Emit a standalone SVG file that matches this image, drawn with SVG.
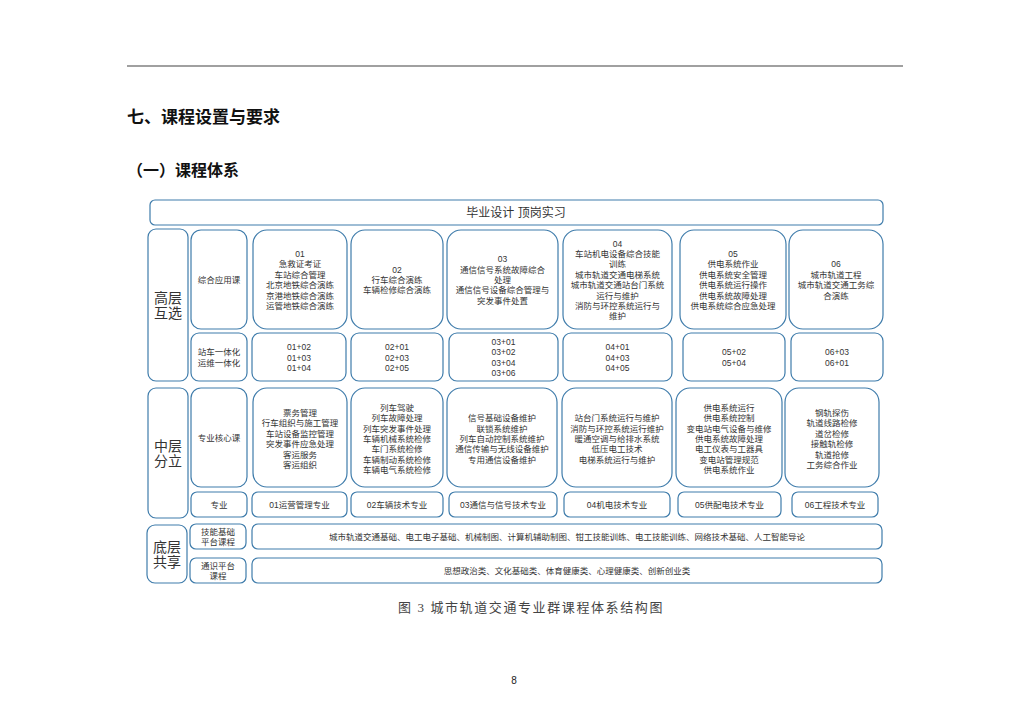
<svg xmlns="http://www.w3.org/2000/svg" width="1024" height="723" viewBox="0 0 1024 723">
<style>
.b{fill:#fff;stroke:#3f7cab;stroke-width:1.2}
.t{font-family:"Liberation Sans","Noto Sans CJK SC",sans-serif;font-size:8.5px;fill:#333;text-anchor:middle}
.L{font-size:14px}
.h{font-family:"Noto Sans CJK SC",sans-serif;font-weight:bold;fill:#111}
</style>
<rect width="1024" height="723" fill="#fff"/>
<line x1="127" y1="66" x2="903" y2="66" stroke="#808080" stroke-width="1.5"/>
<text class="h" x="127" y="123" font-size="17">七、课程设置与要求</text>
<text class="h" x="127" y="176" font-size="16">（一）课程体系</text>

<g id="top">
<rect class="b" x="150" y="200" width="733" height="25" rx="5"/>
<text class="t" x="516" y="216.8" style="font-size:12px">毕业设计 顶岗实习</text>
</g>

<g id="high">
<rect class="b" x="148" y="229" width="40" height="152" rx="8"/>
<text class="t L" x="168" y="302.5">高层<tspan x="168" dy="15">互选</tspan></text>
</g>
<g id="high-label1">
<rect class="b" x="191" y="230" width="56" height="99" rx="10"/>
<text class="t" x="219" y="282.5">综合应用课</text>
</g>
<g id="high-label2">
<rect class="b" x="191" y="333" width="56" height="48" rx="8"/>
<text class="t" x="219" y="355.3">站车一体化<tspan x="219" dy="10.4">运维一体化</tspan></text>
</g>

<g id="c01">
<rect class="b" x="253" y="230" width="94" height="99" rx="14"/>
<text class="t" x="300" y="257">01<tspan x="300" dy="10.4">急救证考证</tspan><tspan x="300" dy="10.4">车站综合管理</tspan><tspan x="300" dy="10.4">北京地铁综合演练</tspan><tspan x="300" dy="10.4">京港地铁综合演练</tspan><tspan x="300" dy="10.4">运管地铁综合演练</tspan></text>
</g>
<g id="c02">
<rect class="b" x="351" y="230" width="92" height="99" rx="14"/>
<text class="t" x="397" y="272.6">02<tspan x="397" dy="10.4">行车综合演练</tspan><tspan x="397" dy="10.4">车辆检修综合演练</tspan></text>
</g>
<g id="c03">
<rect class="b" x="447" y="230" width="111" height="99" rx="14"/>
<text class="t" x="502.5" y="262.2">03<tspan x="502.5" dy="10.4">通信信号系统故障综合</tspan><tspan x="502.5" dy="10.4">处理</tspan><tspan x="502.5" dy="10.4">通信信号设备综合管理与</tspan><tspan x="502.5" dy="10.4">突发事件处置</tspan></text>
</g>
<g id="c04">
<rect class="b" x="563" y="230" width="109" height="99" rx="14"/>
<text class="t" x="617.5" y="246.6">04<tspan x="617.5" dy="10.4">车站机电设备综合技能</tspan><tspan x="617.5" dy="10.4">训练</tspan><tspan x="617.5" dy="10.4">城市轨道交通电梯系统</tspan><tspan x="617.5" dy="10.4">城市轨道交通站台门系统</tspan><tspan x="617.5" dy="10.4">运行与维护</tspan><tspan x="617.5" dy="10.4">消防与环控系统运行与</tspan><tspan x="617.5" dy="10.4">维护</tspan></text>
</g>
<g id="c05">
<rect class="b" x="680" y="230" width="106" height="99" rx="14"/>
<text class="t" x="733" y="257">05<tspan x="733" dy="10.4">供电系统作业</tspan><tspan x="733" dy="10.4">供电系统安全管理</tspan><tspan x="733" dy="10.4">供电系统运行操作</tspan><tspan x="733" dy="10.4">供电系统故障处理</tspan><tspan x="733" dy="10.4">供电系统综合应急处理</tspan></text>
</g>
<g id="c06">
<rect class="b" x="789" y="230" width="94" height="99" rx="14"/>
<text class="t" x="836" y="267.4">06<tspan x="836" dy="10.4">城市轨道工程</tspan><tspan x="836" dy="10.4">城市轨道交通工务综</tspan><tspan x="836" dy="10.4">合演练</tspan></text>
</g>

<g id="m01">
<rect class="b" x="252" y="333" width="94" height="48" rx="8"/>
<text class="t" x="299" y="350.1">01+02<tspan x="299" dy="10.4">01+03</tspan><tspan x="299" dy="10.4">01+04</tspan></text>
</g>
<g id="m02">
<rect class="b" x="351" y="333" width="92" height="48" rx="8"/>
<text class="t" x="397" y="350.1">02+01<tspan x="397" dy="10.4">02+03</tspan><tspan x="397" dy="10.4">02+05</tspan></text>
</g>
<g id="m03">
<rect class="b" x="449" y="333" width="109" height="48" rx="8"/>
<text class="t" x="503.5" y="344.9">03+01<tspan x="503.5" dy="10.4">03+02</tspan><tspan x="503.5" dy="10.4">03+04</tspan><tspan x="503.5" dy="10.4">03+06</tspan></text>
</g>
<g id="m04">
<rect class="b" x="563" y="333" width="109" height="48" rx="8"/>
<text class="t" x="617.5" y="350.1">04+01<tspan x="617.5" dy="10.4">04+03</tspan><tspan x="617.5" dy="10.4">04+05</tspan></text>
</g>
<g id="m05">
<rect class="b" x="683" y="333" width="102" height="48" rx="8"/>
<text class="t" x="734" y="355.3">05+02<tspan x="734" dy="10.4">05+04</tspan></text>
</g>
<g id="m06">
<rect class="b" x="791" y="333" width="92" height="48" rx="8"/>
<text class="t" x="837" y="355.3">06+03<tspan x="837" dy="10.4">06+01</tspan></text>
</g>

<g id="mid">
<rect class="b" x="148" y="388" width="40" height="130" rx="8"/>
<text class="t L" x="168" y="450.5">中层<tspan x="168" dy="15">分立</tspan></text>
</g>
<g id="mid-label1">
<rect class="b" x="191" y="388" width="56" height="99" rx="10"/>
<text class="t" x="219" y="440.5">专业核心课</text>
</g>
<g id="mid-label2">
<rect class="b" x="191" y="492" width="56" height="25" rx="6"/>
<text class="t" x="219" y="507.5">专业</text>
</g>

<g id="k01">
<rect class="b" x="253" y="388" width="94" height="99" rx="14"/>
<text class="t" x="300" y="416">票务管理<tspan x="300" dy="10.4">行车组织与施工管理</tspan><tspan x="300" dy="10.4">车站设备监控管理</tspan><tspan x="300" dy="10.4">突发事件应急处理</tspan><tspan x="300" dy="10.4">客运服务</tspan><tspan x="300" dy="10.4">客运组织</tspan></text>
</g>
<g id="k02">
<rect class="b" x="351" y="388" width="92" height="99" rx="14"/>
<text class="t" x="397" y="410.8">列车驾驶<tspan x="397" dy="10.4">列车故障处理</tspan><tspan x="397" dy="10.4">列车突发事件处理</tspan><tspan x="397" dy="10.4">车辆机械系统检修</tspan><tspan x="397" dy="10.4">车门系统检修</tspan><tspan x="397" dy="10.4">车辆制动系统检修</tspan><tspan x="397" dy="10.4">车辆电气系统检修</tspan></text>
</g>
<g id="k03">
<rect class="b" x="447" y="388" width="110" height="99" rx="14"/>
<text class="t" x="502" y="421.2">信号基础设备维护<tspan x="502" dy="10.4">联锁系统维护</tspan><tspan x="502" dy="10.4">列车自动控制系统维护</tspan><tspan x="502" dy="10.4">通信传输与无线设备维护</tspan><tspan x="502" dy="10.4">专用通信设备维护</tspan></text>
</g>
<g id="k04">
<rect class="b" x="562" y="388" width="110" height="99" rx="14"/>
<text class="t" x="617" y="421.2">站台门系统运行与维护<tspan x="617" dy="10.4">消防与环控系统运行维护</tspan><tspan x="617" dy="10.4">暖通空调与给排水系统</tspan><tspan x="617" dy="10.4">低压电工技术</tspan><tspan x="617" dy="10.4">电梯系统运行与维护</tspan></text>
</g>
<g id="k05">
<rect class="b" x="676" y="388" width="106" height="99" rx="14"/>
<text class="t" x="729" y="410.8">供电系统运行<tspan x="729" dy="10.4">供电系统控制</tspan><tspan x="729" dy="10.4">变电站电气设备与维修</tspan><tspan x="729" dy="10.4">供电系统故障处理</tspan><tspan x="729" dy="10.4">电工仪表与工器具</tspan><tspan x="729" dy="10.4">变电站管理规范</tspan><tspan x="729" dy="10.4">供电系统作业</tspan></text>
</g>
<g id="k06">
<rect class="b" x="785" y="388" width="94" height="99" rx="14"/>
<text class="t" x="832" y="416">钢轨探伤<tspan x="832" dy="10.4">轨道线路检修</tspan><tspan x="832" dy="10.4">道岔检修</tspan><tspan x="832" dy="10.4">接触轨检修</tspan><tspan x="832" dy="10.4">轨道抢修</tspan><tspan x="832" dy="10.4">工务综合作业</tspan></text>
</g>

<g id="s01">
<rect class="b" x="252" y="492" width="95" height="25" rx="6"/>
<text class="t" x="299.5" y="507.5">01运营管理专业</text>
</g>
<g id="s02">
<rect class="b" x="351" y="492" width="92" height="25" rx="6"/>
<text class="t" x="397" y="507.5">02车辆技术专业</text>
</g>
<g id="s03">
<rect class="b" x="449" y="492" width="108" height="25" rx="6"/>
<text class="t" x="503" y="507.5">03通信与信号技术专业</text>
</g>
<g id="s04">
<rect class="b" x="564" y="492" width="106" height="25" rx="6"/>
<text class="t" x="617" y="507.5">04机电技术专业</text>
</g>
<g id="s05">
<rect class="b" x="678" y="492" width="103" height="25" rx="6"/>
<text class="t" x="729.5" y="507.5">05供配电技术专业</text>
</g>
<g id="s06">
<rect class="b" x="792" y="492" width="86" height="25" rx="6"/>
<text class="t" x="835" y="507.5">06工程技术专业</text>
</g>

<g id="base">
<rect class="b" x="147" y="525" width="40" height="58" rx="8"/>
<text class="t L" x="167" y="551.5">底层<tspan x="167" dy="15">共享</tspan></text>
</g>
<g id="base-label1">
<rect class="b" x="190" y="524" width="56" height="25" rx="6"/>
<text class="t" x="218" y="534.5">技能基础<tspan x="218" dy="10">平台课程</tspan></text>
</g>
<g id="base-label2">
<rect class="b" x="190" y="558" width="56" height="25" rx="6"/>
<text class="t" x="218" y="568.5">通识平台<tspan x="218" dy="10">课程</tspan></text>
</g>
<g id="base-skill">
<rect class="b" x="252" y="524" width="630" height="25" rx="6"/>
<text class="t" x="567" y="539.5">城市轨道交通基础、电工电子基础、机械制图、计算机辅助制图、钳工技能训练、电工技能训练、网络技术基础、人工智能导论</text>
</g>
<g id="base-general">
<rect class="b" x="252" y="558" width="630" height="25" rx="6"/>
<text class="t" x="567" y="573.5">思想政治类、文化基础类、体育健康类、心理健康类、创新创业类</text>
</g>

<g id="connectors"/>

<text x="398" y="611.7" font-family="Liberation Serif,Noto Sans CJK SC,serif" font-size="13" letter-spacing="1.6" fill="#444">图 3 城市轨道交通专业群课程体系结构图</text>
<text x="514" y="683.5" font-family="Liberation Sans,sans-serif" font-size="10" text-anchor="middle" fill="#222">8</text>
</svg>
